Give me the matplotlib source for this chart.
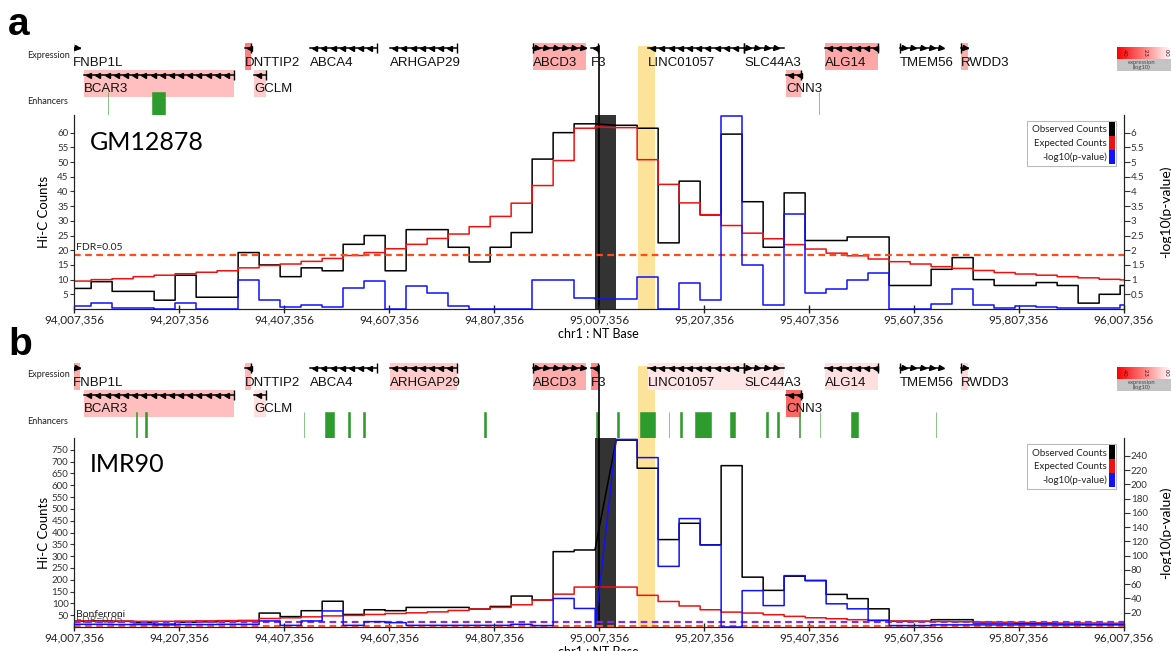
import numpy as np
import matplotlib
matplotlib.use("Agg")
import matplotlib.pyplot as plt
from matplotlib.colors import LinearSegmentedColormap
from matplotlib.patches import Rectangle

plt.rcParams['font.family'] = ['Lato', 'DejaVu Sans']

W, H = 1171, 651

# 40 kb bins starting at 94.00 Mb, viewpoint bin holds the F3 promoter
bin_start = 94.0
bin_size = 0.04
viewpoint_bin = 25
viewpoint = 95.007356
x_start, x_end = 94.007356, 96.007356
yellow_span = (95.0817, 95.1141)

# panel a (GM12878): Hi-C counts (left axis) and -log10 p (right axis)
obs_a = [7, 9.3, 6, 6, 3, 11.5, 4, 4, 19.2, 15,
         11, 14, 13, 22, 25, 13, 27, 27, 21, 16,
         21, 26, 51, 60, 63, 63, 62.5, 61.5, 22.5, 43.5,
         32, 59.5, 36.5, 21, 39.5, 23.3, 23.3, 24.5, 24.5, 8,
         8, 13.5, 17.5, 10, 8, 8, 9, 8, 2, 5, 8]
exp_a = [9.5, 10, 10.3, 11, 11.5, 12, 12.5, 13, 14, 14.8,
         15.3, 16.2, 17.2, 18.2, 19.2, 20.5, 22, 24, 25.5, 28,
         31.5, 36, 42, 50.5, 61.5, 62, 61.7, 50.8, 42.4, 36.1,
         32.1, 28.4, 25.8, 23.9, 21.9, 20.4, 19, 18.1, 17, 16.1,
         15.3, 14.4, 13.8, 13.1, 12.4, 11.9, 11.5, 11, 10.6, 10.1, 9.9]
pval_a = [0.1, 0.2, 0.03, 0.03, 0, 0.2, 0, 0, 1.0, 0.32,
          0.07, 0.15, 0.07, 0.7, 0.96, 0, 0.78, 0.55, 0.1, 0.01,
          0.01, 0.01, 1.0, 1.0, 0.38, 0.35, 0.35, 1.1, 0, 0.88,
          0.32, 6.57, 1.5, 0.15, 3.23, 0.53, 0.67, 1.0, 1.21, 0.01,
          0.01, 0.17, 0.67, 0.12, 0.03, 0.1, 0.07, 0.02, 0.02, 0.02, 0.15]
fdr_a = 18.5

# panel b (IMR90)
obs_b = [25, 26, 24, 18, 12, 20, 22, 24, 26, 59,
         44, 69, 109, 53, 73, 69, 83, 83, 83, 76,
         87, 131, 114, 319, 326, 330, 791, 672, 370, 439,
         348, 683, 211, 155, 215, 197, 138, 120, 77, 24,
         24, 31, 31, 17, 17, 15, 15, 13, 12, 12, 12]
exp_b = [26, 25, 25, 24, 24, 25, 26, 27, 28, 36,
         39, 43, 47, 49, 53, 57, 60, 64, 70, 76,
         83, 94, 114, 139, 169, 170, 169, 134, 108, 89,
         73, 63, 59, 52, 45, 39, 35, 31, 28, 25,
         24, 23, 22, 21, 20, 19, 18, 17, 17, 16, 15]
pval_b = [3.8, 3.8, 3.5, 3.5, 3, 3.5, 3.5, 3.8, 3.8, 8.5,
          2.3, 8.5, 22.5, 2.3, 7.5, 6.1, 2.3, 2.3, 2.3, 2.3,
          2.3, 3.8, 2, 40, 26, 0, 263, 237.5, 85, 152,
          115, 0, 51, 30, 72, 65, 32.5, 25.5, 9.3, 2,
          2, 3, 3, 3, 3, 3, 3, 3, 3, 3, 3]
bonf_b = 22
fdr_b = 5

# genes (Mb), strand, row, log10 expression in each cell line
gene_names = ['FNBP1L', 'BCAR3', 'DNTTIP2', 'GCLM', 'ABCA4', 'ARHGAP29', 'ABCD3',
              'F3', 'LINC01057', 'SLC44A3', 'CNN3', 'ALG14', 'TMEM56', 'RWDD3']
gene_start = [94.0055, 94.0264, 94.3331, 94.3502, 94.4569, 94.6093, 94.8817,
              94.9921, 95.1007, 95.2836, 95.3636, 95.4379, 95.5807, 95.6969]
gene_end = [94.0188, 94.3121, 94.3445, 94.3731, 94.5845, 94.7369, 94.9826,
            95.0055, 95.2836, 95.3598, 95.3921, 95.5388, 95.6607, 95.7102]
gene_strand = [1, -1, -1, -1, -1, -1, 1, -1, -1, 1, -1, -1, 1, 1]
gene_row = [0, 1, 0, 1, 0, 0, 0, 0, 0, 0, 1, 0, 0, 0]
expr_a = [0, 1.0, 2.0, 0.8, 0, 0, 1.3, 0, 0, 0, 1.2, 1.4, 0, 1.3]
expr_b = [1.3, 1.0, 1.1, 0.5, 0, 0.8, 1.3, 1.8, 0.4, 0.4, 2.4, 0.5, 0, 0.6]

# enhancer intervals (Mb)
enh_a = [(94.0712, 94.0730), (94.1559, 94.1807), (95.4255, 95.4273)]
enh_b = [(94.1245, 94.1275), (94.1430, 94.1460), (94.4447, 94.4463), (94.4855, 94.5026),
         (94.5300, 94.5322), (94.5585, 94.5607), (94.7890, 94.7912), (95.0025, 95.0045),
         (95.0425, 95.0445), (95.0855, 95.1141), (95.1398, 95.1414), (95.1625, 95.1645),
         (95.1902, 95.2207), (95.2569, 95.2664), (95.3262, 95.3284), (95.3473, 95.3493),
         (95.3890, 95.3910), (95.4275, 95.4291), (95.4874, 95.5007), (95.6485, 95.6501)]

expr_cmap = LinearSegmentedColormap.from_list('expr', ['#ffffff', '#ff0000'])
c_obs, c_exp, c_p = '#000000', '#f01010', '#1010ff'
yellow, green = '#fde39a', '#2e9b2e'


def px_box(l, t, r, b):
    return [l / W, 1 - b / H, (r - l) / W, (b - t) / H]


def step_xy(vals):
    edges = bin_start + bin_size * np.arange(len(vals) + 1)
    xs, ys = [], []
    for i, v in enumerate(vals):
        xs += [edges[i], edges[i + 1]]
        if i == viewpoint_bin:
            ys += [v, vals[i + 1]]
        else:
            ys += [v, v]
    return xs, ys


fig = plt.figure(figsize=(W / 100, H / 100), dpi=100)


def draw_track(top, expr, enh):
    tr = fig.add_axes(px_box(74, top, 1124, top + 76))
    tr.set_xlim(x_start, x_end)
    tr.set_ylim(76, 0)
    tr.axis('off')
    tr.axvspan(*yellow_span, ymin=0, ymax=72 / 76, color=yellow, lw=0, zorder=0)
    tr.axvline(viewpoint, ymin=0, ymax=72 / 76, color='k', lw=1.2, zorder=5)
    for name, s, e, st, row, val in zip(gene_names, gene_start, gene_end,
                                        gene_strand, gene_row, expr):
        ay = 6 + 27 * row
        if val > 0:
            tr.add_patch(Rectangle((s, ay - 5), e - s, 27, color=expr_cmap(val / 4),
                                   lw=0, zorder=1))
        tr.plot([s, e], [ay, ay], color='k', lw=1.1, zorder=3)
        marks = np.arange(s + 0.008, e - 0.002, 0.0175)
        tr.plot(marks, [ay] * len(marks), ls='none', marker='<' if st < 0 else '>',
                ms=3.6, color='k', zorder=3)
        tss = e if st < 0 else s
        tr.plot([tss], [ay], marker='|', ms=7, mew=1.0, color='k', zorder=3)
        tr.text(s, ay + 14.5, name, fontsize=9.5, family='Liberation Sans',
                va='center', ha='left', color='#111111', zorder=4)
    for s, e in enh:
        tr.axvspan(s, e, ymin=0, ymax=26 / 76, facecolor=green, edgecolor=green,
                   lw=0.4, zorder=2)
    fig.text(27 / W, 1 - (top + 13) / H, 'Expression', fontsize=6.5, va='center',
             color='#222222')
    fig.text(27 / W, 1 - (top + 59) / H, 'Enhancers', fontsize=6.5, va='center',
             color='#222222')
    # expression colour key
    kb = fig.add_axes(px_box(1117, top + 5, 1171, top + 17))
    kb.imshow(np.linspace(4, 0, 100)[None, :], cmap=expr_cmap, vmin=0, vmax=4,
              aspect='auto')
    kb.axis('off')
    for lx, lab in zip([1124, 1145, 1166], ['4.0', '2.3', '0.0']):
        fig.text(lx / W, 1 - (top + 11) / H, lab, fontsize=4, rotation=270,
                 ha='center', va='center', color='#550000')
    fig.add_artist(Rectangle((1117 / W, 1 - (top + 29) / H), 54 / W, 12 / H,
                             transform=fig.transFigure, color='#c4c4c4', lw=0))
    fig.text(1142 / W, 1 - (top + 23) / H, 'expression\n(log10)', fontsize=4.2,
             ha='center', va='center', color='#444444', linespacing=0.8)


def draw_plot(top, bottom, obs, exp, pval, ymax, pmax, yticks, pticks, cell):
    ax = fig.add_axes(px_box(74, top, 1124, bottom))
    ax.set_xlim(x_start, x_end)
    ax.set_ylim(0, ymax)
    ax.axvspan(*yellow_span, color=yellow, lw=0, zorder=0)
    ax.axvspan(bin_start + viewpoint_bin * bin_size,
               bin_start + (viewpoint_bin + 1) * bin_size, color='#333333', lw=0, zorder=1)
    ax.axvline(viewpoint, color='k', lw=1.2, zorder=1)
    ax.plot(*step_xy(obs), color=c_obs, lw=1.1, zorder=3)
    ax.plot(*step_xy(exp), color=c_exp, lw=1.1, zorder=3)
    ax2 = ax.twinx()
    ax2.set_ylim(0, pmax)
    ax2.plot(*step_xy(pval), color=c_p, lw=1.1, zorder=3)

    xt = x_start + 0.2 * np.arange(11)
    ax.set_xticks(xt)
    ax.set_xticklabels([f'{int(round(t * 1e6)):,}' for t in xt])
    ax.tick_params(axis='x', direction='inout', length=6, width=1, labelsize=8.5, pad=1,
                   colors='#222222')
    ax.set_yticks(yticks)
    ax.set_yticklabels([f'{t:g}' for t in yticks])
    ax.tick_params(axis='y', direction='out', length=3, labelsize=7, pad=1,
                   colors='#333333')
    ax2.set_yticks(pticks)
    ax2.set_yticklabels([f'{t:g}' for t in pticks])
    ax2.tick_params(axis='y', direction='out', length=4, labelsize=7, pad=1,
                    colors='#333333')
    for a in (ax, ax2):
        a.spines['top'].set_visible(False)
        for s in a.spines.values():
            s.set_linewidth(0.8)
            s.set_color('#222222')
    ax.set_ylabel('Hi-C Counts', fontsize=9.5)
    ax.yaxis.set_label_coords(-0.023, 0.5)
    ax2.set_ylabel('-log10(p-value)', fontsize=10)
    ax2.yaxis.set_label_coords(1.034, 0.5)
    ax.set_xlabel('chr1 : NT Base', fontsize=9)
    ax.xaxis.set_label_coords(0.499, -0.1)
    ax.text(0.015, 0.86, cell, transform=ax.transAxes, fontsize=18, va='center')

    # legend
    fig.add_artist(Rectangle((1027 / W, 1 - (top + 51) / H), 89 / W, 45 / H,
                             transform=fig.transFigure, fc='white', ec='#bbbbbb', lw=0.8))
    for i, (lab, c) in enumerate(zip(['Observed Counts', 'Expected Counts',
                                      '-log10(p-value)'], [c_obs, c_exp, c_p])):
        fig.text(1107 / W, 1 - (top + 15 + 13.5 * i) / H, lab, fontsize=7, ha='right',
                 va='center', color='#222222')
        fig.add_artist(Rectangle((1109 / W, 1 - (top + 21 + 14 * i) / H), 6 / W, 14 / H,
                                 transform=fig.transFigure, color=c, lw=0))
    return ax, ax2


fig.text(8 / W, 1 - 25 / H, 'a', fontsize=28, fontweight='bold',
         family='Liberation Sans', va='center')
fig.text(8 / W, 1 - 345 / H, 'b', fontsize=28, fontweight='bold',
         family='Liberation Sans', va='center')

draw_track(42, expr_a, enh_a)
ax_a, ax2_a = draw_plot(115, 309, obs_a, exp_a, pval_a, 66, 6.6,
                        np.arange(5, 61, 5), np.arange(0.5, 6.01, 0.5), 'GM12878')
ax_a.axhline(fdr_a, color='#ff4a1a', lw=1.6, ls=(0, (3, 2)), zorder=4)
ax_a.text(x_start + 0.004, fdr_a + 0.8, 'FDR=0.05', fontsize=7.5, va='bottom',
          color='#222222')

draw_track(362, expr_b, enh_b)
ax_b, ax2_b = draw_plot(438, 627, obs_b, exp_b, pval_b, 800, 265,
                        np.arange(50, 751, 50), np.arange(20, 241, 20), 'IMR90')
ax_b.axhline(bonf_b, color='#8030e0', lw=1.6, ls=(0, (3, 2)), zorder=4)
ax_b.axhline(fdr_b, color='#ff5a1f', lw=1.6, ls=(0, (3, 2)), zorder=4)
ax_b.text(x_start + 0.004, bonf_b + 10, 'Bonferroni', fontsize=7.5, va='bottom',
          color='#222222')
ax_b.text(x_start + 0.004, fdr_b + 4, 'FDR=0.05', fontsize=7.5, va='bottom',
          color='#333333', alpha=0.8)

fig.savefig('out.png', dpi=100)
